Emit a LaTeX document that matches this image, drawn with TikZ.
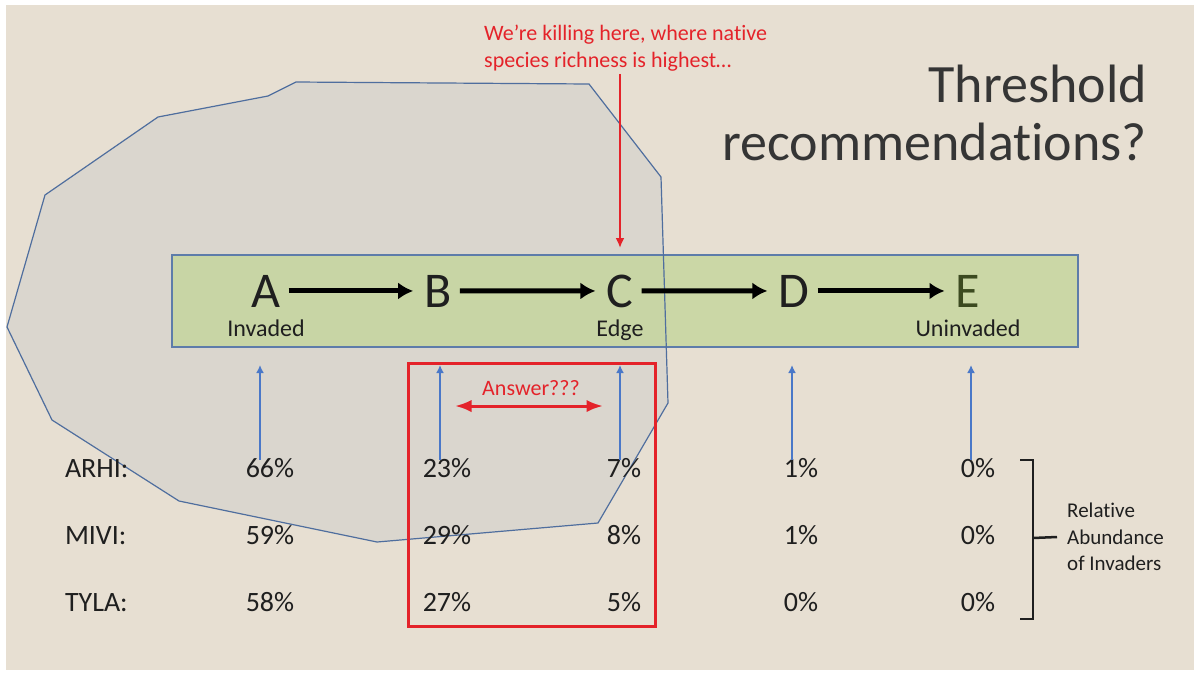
\documentclass[tikz,border=0pt]{standalone}
\usepackage{fontspec}
\setmainfont{Carlito}[Ligatures={NoCommon}]
\usetikzlibrary{positioning,arrows.meta,matrix}

\definecolor{hintergrund}{HTML}{E7DFD2}
\definecolor{flaeche}{HTML}{DAD6CE}
\definecolor{umriss}{HTML}{4F6E9E}
\definecolor{band}{HTML}{C4D59B}
\definecolor{bandrand}{HTML}{5D7CAA}
\definecolor{dunkel}{HTML}{1F1F1F}
\definecolor{dunkelgruen}{HTML}{3C4A20}
\definecolor{rot}{HTML}{E4232A}
\definecolor{blau}{HTML}{4A78C8}

\begin{document}
\begin{tikzpicture}[%
        x=1pt, y=-1pt,
        >={Latex}, % Pfeilspitzen
        txt/.style={text=dunkel, inner sep=0pt},
        buchstabe/.style={font=\fontsize{50}{60}\selectfont, text=dunkel, inner sep=4pt, anchor=base},
        ortlabel/.style={txt, font=\fontsize{24}{29}\selectfont},
        rottext/.style={text=rot, inner sep=0pt, font=\fontsize{22}{27}\selectfont},
        schritt/.style={-{Latex[length=15pt,width=17pt]}, line width=5pt, draw=black},
        blaupfeil/.style={-{Latex[length=8pt,width=8pt]}, line width=2.7pt, draw=blau},
        rotpfeil/.style={-{Latex[length=10pt,width=9pt]}, line width=2.5pt, draw=rot},
        klammer/.style={line width=2.5pt, draw=dunkel}
        ]
            \useasboundingbox (0,0) rectangle (1194,673);
            \fill[hintergrund] (6,5) rectangle (1194,670);

            % Fläche
            \fill[flaeche] (296,82) -- (589,84) -- (661,177) -- (668,403) -- (598,523)
                    -- (377,542) -- (179,501) -- (52,420) -- (7,327) -- (45,195)
                    -- (158,117) -- (268,96) -- cycle;

            % Band
            \fill[band, opacity=.8] (172,255) rectangle (1078,347);
            \draw[bandrand, line width=1.5pt] (172,255) rectangle (1078,347);

            \draw[umriss, line width=1.2pt] (296,82) -- (589,84) -- (661,177) -- (668,403) -- (598,523)
                    -- (377,542) -- (179,501) -- (52,420) -- (7,327) -- (45,195)
                    -- (158,117) -- (268,96) -- cycle;

            % Titel
            \node[txt, anchor=base east, align=right, text=dunkel!90,
                  font=\fontsize{54}{58}\selectfont] (titel) at (1147,160)
                  {Threshold\\recommendations?};

            % Stufen
            \node[buchstabe] (A) at (266,307) {A};
            \node[buchstabe] (B) at (438,307) {B};
            \node[buchstabe] (C) at (620,307) {C};
            \node[buchstabe] (D) at (794,307) {D};
            \node[buchstabe, text=dunkelgruen] (E) at (968,307) {E};

            \draw[schritt, shorten <=4pt, shorten >=7pt] (A) -- (B);
            \draw[schritt, shorten <=4pt, shorten >=7pt] (B) -- (C);
            \draw[schritt, shorten <=4pt, shorten >=7pt] (C) -- (D);
            \draw[schritt, shorten <=4pt, shorten >=7pt] (D) -- (E);

            \node[ortlabel, below=8pt of A] (invaded) {Invaded};
            \node[ortlabel, below=8pt of C] (edge) {Edge};
            \node[ortlabel, below=8pt of E] (uninvaded) {Uninvaded};

            % Hinweis
            \node[rottext, anchor=base west, align=left] (hinweis) at (484,67)
                  {We’re killing here, where native\\species richness is highest…};
            \draw[rotpfeil] ([yshift=-3pt]C |- hinweis.south) -- ([yshift=7pt]C |- 0,255);

            % Tabelle
            \matrix (T) [
                matrix of nodes,
                anchor=north west, inner sep=0pt, outer sep=0pt,
                column sep={177pt,between origins}, row sep={67pt,between origins},
                nodes={txt, font=\fontsize{28}{34}\selectfont, text height=20pt, text depth=6pt, anchor=base},
                column 1/.style={nodes={anchor=base west}}
            ] at (65,457)
            {
                ARHI: &[28pt] 66\% & 23\% & 7\% & 1\% & 0\% \\
                MIVI: & 59\% & 29\% & 8\% & 1\% & 0\% \\
                TYLA: & 58\% & 27\% & 5\% & 0\% & 0\% \\
            };

            % Blaue Pfeile
            \coordinate (pfo) at (0,365);
            \coordinate (pfu) at (0,460);
            \draw[blaupfeil] ([xshift=-6pt]A |- pfu) -- ([xshift=-6pt]A |- pfo);
            \draw[blaupfeil] ([xshift=2pt]B |- pfu) -- ([xshift=2pt]B |- pfo);
            \draw[blaupfeil] (C |- pfu) -- (C |- pfo);
            \draw[blaupfeil] ([xshift=-2pt]D |- pfu) -- ([xshift=-2pt]D |- pfo);
            \draw[blaupfeil] ([xshift=3pt]E |- pfu) -- ([xshift=3pt]E |- pfo);

            % Auswahl
            \draw[rot, line width=3pt] (408,363) rectangle (655,626);
            \node[rottext] (antwort) at (531,388) {Answer???};
            \coordinate (al) at (455,406);
            \coordinate (ar) at (603,406);
            \draw[rotpfeil, <->, line width=3pt] (al) -- (ar);

            % Klammer
            \coordinate (ko) at (1033,460);
            \coordinate (ku) at (1033,619);
            \coordinate (km) at (1033,538);
            \draw[klammer] ([xshift=-13pt]ko) -- (ko) -- (ku) -- ([xshift=-13pt]ku);
            \node[txt, anchor=west, align=left, font=\fontsize{21}{26.5}\selectfont] (RA) at (1067,537)
                  {Relative\\Abundance\\of Invaders};
            \draw[klammer] (km) -- ([xshift=-10pt]RA.west);

        \end{tikzpicture}
\end{document}
